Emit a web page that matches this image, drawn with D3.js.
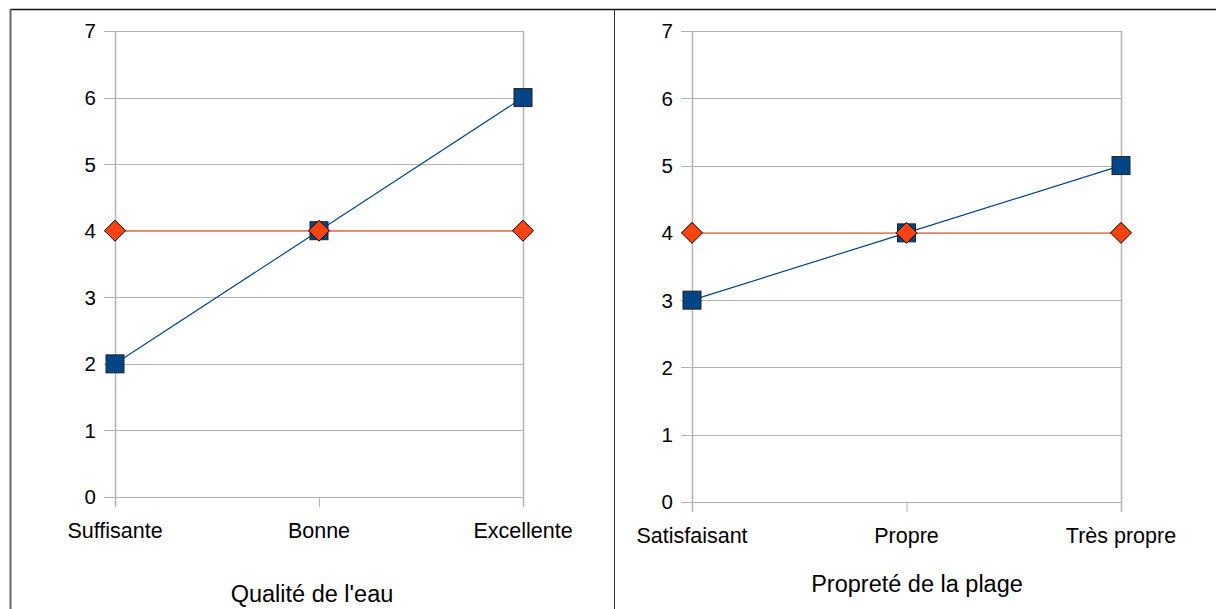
<!DOCTYPE html>
<html>
<head>
<meta charset="utf-8">
<script src="https://cdn.jsdelivr.net/npm/d3@7"></script>
<style>
body{margin:0;background:#fff;}
svg text{font-family:"Liberation Sans",Arial,sans-serif;fill:#000;}
</style>
</head>
<body>
<svg id="c" width="1216" height="609"></svg>
<script>
const categoriesWater = ["Suffisante","Bonne","Excellente"];
const blueWater = [2,4,6];
const orangeWater = [4,4,4];
const titleWater = "Qualité de l'eau";

const categoriesBeach = ["Satisfaisant","Propre","Très propre"];
const blueBeach = [3,4,5];
const orangeBeach = [4,4,4];
const titleBeach = "Propreté de la plage";

const yTicks = [0,1,2,3,4,5,6,7];

const svg = d3.select("#c");

// frame
svg.append("line").attr("x1",10).attr("x2",1216).attr("y1",9.5).attr("y2",9.5).attr("stroke","#111").attr("stroke-width",1.5);
svg.append("line").attr("x1",10.5).attr("x2",10.5).attr("y1",9).attr("y2",609).attr("stroke","#666").attr("stroke-width",2);
svg.append("line").attr("x1",614.5).attr("x2",614.5).attr("y1",9).attr("y2",609).attr("stroke","#333").attr("stroke-width",1);

const panels = [
  {cats:categoriesWater, blue:blueWater, orange:orangeWater, title:titleWater, x0:115, x1:523, yTop:31, yBot:497, catY:538, titleY:602, titleX:312},
  {cats:categoriesBeach, blue:blueBeach, orange:orangeBeach, title:titleBeach, x0:692, x1:1121, yTop:31, yBot:502, catY:543, titleY:592, titleX:917}
];

panels.forEach(p=>{
  const g = svg.append("g");
  const x = d3.scalePoint().domain(p.cats).range([p.x0,p.x1]);
  const y = d3.scaleLinear().domain([0,7]).range([p.yBot,p.yTop]);
  const grid = "#b3b3b3";
  yTicks.forEach(t=>{
    const yy = Math.round(y(t))+0.5;
    g.append("line").attr("x1",p.x0-11).attr("x2",p.x1).attr("y1",yy).attr("y2",yy).attr("stroke",grid).attr("stroke-width",1);
    g.append("text").attr("x",p.x0-19).attr("y",y(t)).attr("dy","0.36em").attr("text-anchor","end").attr("font-size",20.5).text(t);
  });
  g.append("line").attr("x1",p.x0+0.5).attr("x2",p.x0+0.5).attr("y1",p.yTop).attr("y2",p.yBot+10).attr("stroke",grid).attr("stroke-width",1.5);
  g.append("line").attr("x1",p.x1+0.5).attr("x2",p.x1+0.5).attr("y1",p.yTop).attr("y2",p.yBot+10).attr("stroke",grid).attr("stroke-width",1.5);
  p.cats.forEach(c=>{
    g.append("line").attr("x1",x(c)+0.5).attr("x2",x(c)+0.5).attr("y1",p.yBot).attr("y2",p.yBot+10).attr("stroke",grid).attr("stroke-width",1);
    g.append("text").attr("x",x(c)).attr("y",p.catY).attr("text-anchor","middle").attr("font-size",21.5).text(c);
  });
  g.append("text").attr("x",p.titleX).attr("y",p.titleY).attr("text-anchor","middle").attr("font-size",23.5).text(p.title);

  const line = d3.line().x((d,i)=>x(p.cats[i])).y(d=>y(d));
  g.append("path").datum(p.orange).attr("d",line).attr("fill","none").attr("stroke","#ff420e").attr("stroke-width",1.2).attr("opacity",0.7);
  g.append("path").datum(p.blue).attr("d",line).attr("fill","none").attr("stroke","#004586").attr("stroke-width",1.2);

  const s = 18;
  g.selectAll(null).data(p.blue).enter().append("rect")
    .attr("x",(d,i)=>x(p.cats[i])-s/2).attr("y",d=>y(d)-s/2).attr("width",s).attr("height",s)
    .attr("fill","#004586").attr("stroke","#222").attr("stroke-width",1);
  const r = 10.5;
  g.selectAll(null).data(p.orange).enter().append("path")
    .attr("d",(d,i)=>{const cx=x(p.cats[i]),cy=y(d);return `M${cx},${cy-r}L${cx+r},${cy}L${cx},${cy+r}L${cx-r},${cy}Z`;})
    .attr("fill","#ff420e").attr("stroke","#000").attr("stroke-width",1);
});
</script>
</body>
</html>
